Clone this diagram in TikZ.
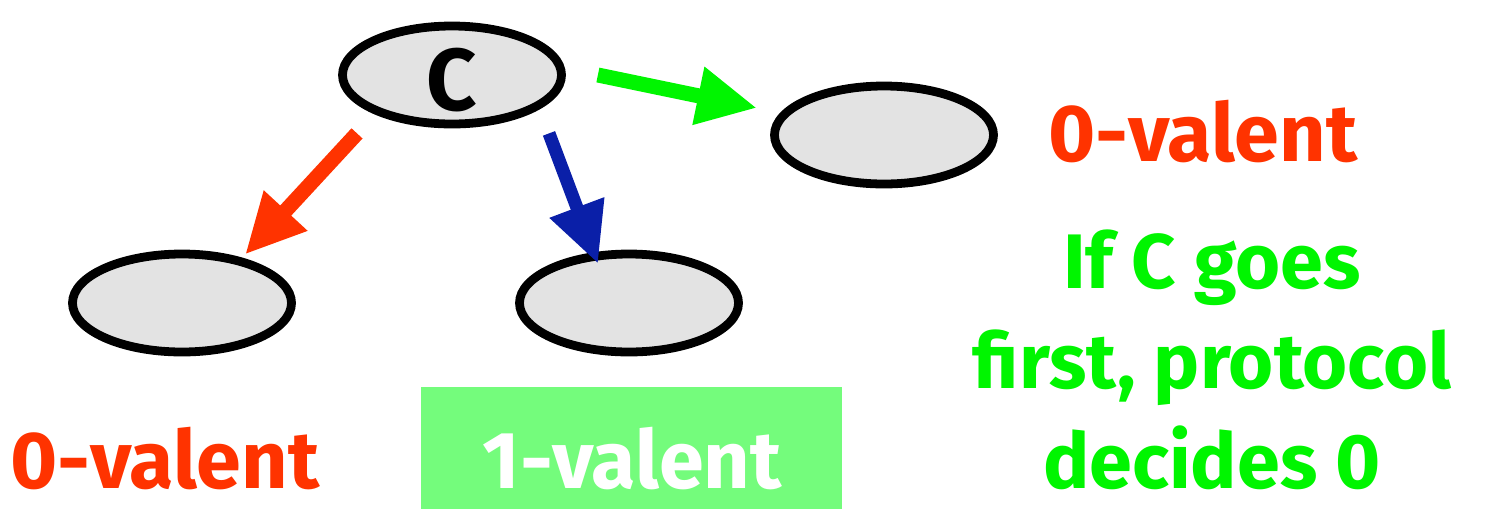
\documentclass[tikz,border=0pt]{standalone}
\usepackage{fontspec}
\setmainfont{Fira Sans}[BoldFont={Fira Sans Bold}]
\usetikzlibrary{arrows.meta,positioning,shapes.geometric,calc}
\definecolor{StateFill}{HTML}{E3E3E3}
\definecolor{ZeroRed}{HTML}{FF3300}
\definecolor{GoGreen}{HTML}{00F500}
\definecolor{StepBlue}{HTML}{0A1FA8}
\definecolor{OneBox}{HTML}{74FC7C}

\begin{document}
\begin{tikzpicture}[>=Latex]
        \tikzset{
          state/.style={
            ellipse,
            draw,
            line width=5pt,
            fill=StateFill,
            inner sep=0pt,
            minimum width=4.38cm,
            minimum height=1.96cm
          },
          move/.style={
            line width=0.3cm,
            -{Triangle[length=1.2cm,width=1.1cm]}
          },
          valence/.style={
            font=\fontsize{46}{55}\selectfont\bfseries,
            inner sep=0pt
          }
        }
        \useasboundingbox (0,0) rectangle (29.7,-10.18);
        % configurations
        \node[state] (c) at (9.04,-1.5) {};
        \node[font=\fontsize{50}{50}\selectfont\bfseries] (clabel) at (9.04,-1.6) {C};
        \node[state] (r) at (17.68,-2.7) {};
        \node[state] (a) at (3.64,-6.06) {};
        \node[state] (b) at (12.58,-6.06) {};
        % steps
        \draw[move,GoGreen] ($(c.east)+(0.64,0)$) -- ($(r.west)+(-0.26,0.54)$);
        \draw[move,StepBlue,line width=0.26cm] ($(c.south)+(1.94,-0.1)$) -- ($(b.north)+(-0.62,-0.28)$);
        \draw[move,ZeroRed] ($(c.south)+(-1.9,-0.1)$) -- ($(a.north)+(1.26,-0.1)$);
        % valences
        \node[valence,text=ZeroRed] (rval) at (24.06,-2.64) {0-valent};
        \node[valence,text=ZeroRed] (aval) at (3.3,-9.16) {0-valent};
        \node[fill=OneBox,minimum width=8.42cm,minimum height=2.44cm,inner sep=0pt] (bbox) at (12.63,-8.96) {};
        \node[valence,text=white] (bval) at (12.64,-9.16) {1-valent};
        \node[valence,text=GoGreen,align=center,font=\fontsize{44}{57}\selectfont\bfseries] (note) at (24.24,-7.2) {If C goes\\first, protocol\\decides 0};
      \end{tikzpicture}
\end{document}
